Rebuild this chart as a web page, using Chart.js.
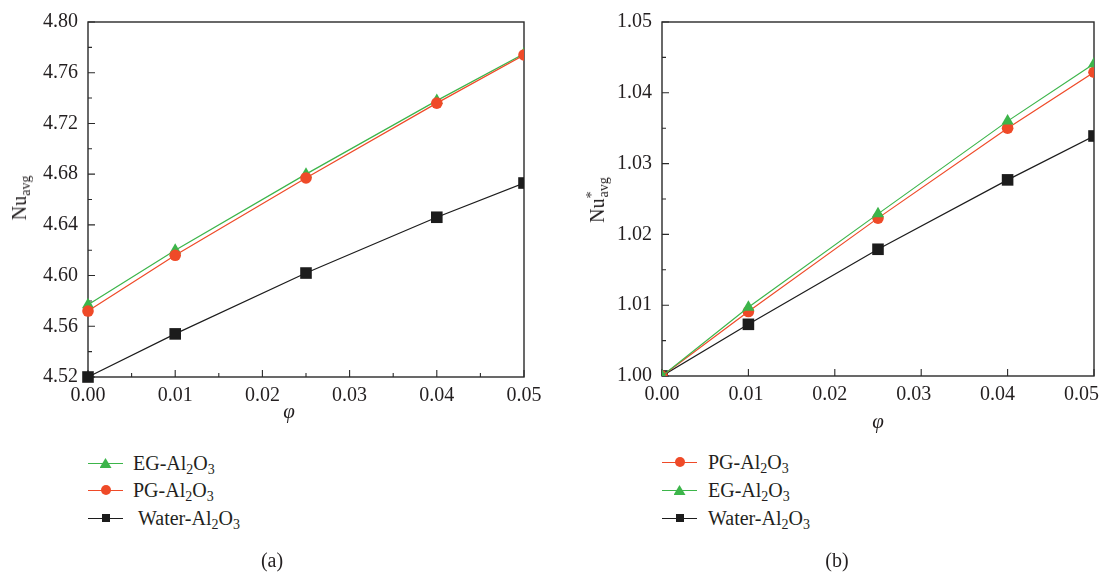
<!DOCTYPE html>
<html>
<head>
<meta charset="utf-8">
<script src="https://cdn.jsdelivr.net/npm/chart.js@4.4.1/dist/chart.umd.min.js"></script>
<style>
  html, body { margin: 0; padding: 0; background: #fff; overflow: hidden; }
  #wrap { position: relative; width: 1101px; height: 576px; overflow: hidden;
          font-family: "Liberation Serif", "Times New Roman", serif; color: #231f20; }
  canvas { position: absolute; top: 0; }
  #cA { left: 0; }
  #cB { left: 570px; }
  .ytitle { position: absolute; font-size: 20px; white-space: nowrap; line-height: 1;
            transform: translate(-50%, -50%) rotate(-90deg); }
  .xtitle { position: absolute; font-size: 21px; font-style: italic; line-height: 1;
            transform: translate(-50%, -50%); }
  .panel { position: absolute; font-size: 20px; line-height: 1; transform: translate(-50%, -50%); }
  sub { font-size: 70%; line-height: 0; vertical-align: -0.32em; }
  sup { font-size: 70%; line-height: 0; vertical-align: 0.55em; }
  .leg { position: absolute; height: 0; }
  .sym { position: absolute; left: 0; top: 0; width: 35px; height: 0; }
  .ln { position: absolute; left: 0; width: 35px; top: -0.5px; height: 1px; }
  .mk { position: absolute; left: 50%; top: 0; transform: translate(-50%, -50%); }
  .triangle { width: 12px; height: 10px; clip-path: polygon(50% 0, 100% 100%, 0 100%); }
  .circle { width: 10px; height: 10px; border-radius: 50%; }
  .rect { width: 8px; height: 8px; }
  .lt { position: absolute; top: 0; transform: translateY(-50%); font-size: 20px;
        white-space: nowrap; line-height: 1; }
</style>
</head>
<body>
<div id="wrap">
  <canvas id="cA" width="560" height="420"></canvas>
  <canvas id="cB" width="560" height="420"></canvas>

  <div class="ytitle" style="left:19px; top:198px;">Nu<sub>avg</sub></div>
  <div class="ytitle" style="left:597px; top:200px;">Nu<sup>*</sup><sub style="margin-left:-0.42em">avg</sub></div>
  <div class="xtitle" style="left:289px; top:411px;">φ</div>
  <div class="xtitle" style="left:878px; top:421px;">φ</div>
  <div class="panel" style="left:272px; top:560px;">(a)</div>
  <div class="panel" style="left:837px; top:560px;">(b)</div>
  <div id="legA"></div>
  <div id="legB"></div>
</div>

<script>
// Volume fraction of nanoparticles
const phi = [0, 0.01, 0.025, 0.04, 0.05];

// (a) average Nusselt number
const nuEG    = [4.577, 4.620, 4.680, 4.738, 4.775];
const nuPG    = [4.572, 4.616, 4.677, 4.736, 4.774];
const nuWater = [4.520, 4.554, 4.602, 4.646, 4.673];

// (b) normalised average Nusselt number
const nrEG    = [1.000, 1.0097, 1.0229, 1.0360, 1.0441];
const nrPG    = [1.000, 1.0091, 1.0223, 1.0350, 1.0429];
const nrWater = [1.000, 1.0073, 1.0179, 1.0277, 1.0339];

// Tick labels
const xTicks  = [0, 0.01, 0.02, 0.03, 0.04, 0.05];
const yTicksA = [4.52, 4.56, 4.60, 4.64, 4.68, 4.72, 4.76, 4.80];
const yTicksB = [1.00, 1.01, 1.02, 1.03, 1.04, 1.05];

const GREEN = '#3cb54a', RED = '#ef4a28', BLACK = '#1c1c1c';
const TEXT = '#231f20';

Chart.defaults.font.family = "'Liberation Serif', 'Times New Roman', serif";
Chart.defaults.color = TEXT;

// Frame around the plot area plus inward major / minor ticks
const frameTicks = {
  id: 'frameTicks',
  beforeDatasetsDraw(chart, args, opts) {
    const { ctx, chartArea: a, scales: { x, y } } = chart;
    ctx.save();
    ctx.strokeStyle = '#2a2a2a';
    ctx.lineWidth = 1.4;
    ctx.strokeRect(a.left, a.top, a.right - a.left, a.bottom - a.top);
    ctx.lineWidth = 1.1;
    ctx.beginPath();
    const mids = (vals) => vals.slice(1).map((v, i) => (v + vals[i]) / 2);
    const xv = x.ticks.map(t => t.value), yv = y.ticks.map(t => t.value);
    const xTick = (v, len) => { const p = x.getPixelForValue(v); ctx.moveTo(p, a.bottom); ctx.lineTo(p, a.bottom - len); };
    const yTick = (v, len) => { const p = y.getPixelForValue(v); ctx.moveTo(a.left, p); ctx.lineTo(a.left + len, p); };
    xv.forEach(v => xTick(v, 7));
    if (opts.xMinor) mids(xv).forEach(v => xTick(v, 4));
    yv.forEach(v => yTick(v, 7));
    if (opts.yMinor) mids(yv).forEach(v => yTick(v, 4));
    ctx.stroke();
    ctx.restore();
  }
};

function series(label, values, color, style, radius, clip) {
  return {
    label, data: phi.map((p, i) => ({ x: p, y: values[i] })),
    borderColor: color, backgroundColor: color, borderWidth: 1.2,
    pointStyle: style, pointRadius: radius, pointHoverRadius: radius,
    pointBackgroundColor: color, pointBorderColor: color, pointBorderWidth: 0,
    tension: 0, clip
  };
}

// x: data axis (ticks drawn inward by the plugin); xl: label axis below it,
// whose range sets how the φ labels are spread under the plot
function makeChart(id, datasets, yTicks, yMin, yMax, yWidth, xHeight, minorX, labelMax) {
  const tickFont = { size: 20 };
  return new Chart(document.getElementById(id), {
    type: 'line',
    data: { datasets },
    options: {
      responsive: false, animation: false, devicePixelRatio: 1,
      layout: { padding: { left: 0, top: 15, right: 36, bottom: 0 } },
      plugins: { legend: { display: false }, tooltip: { enabled: false },
                 frameTicks: { xMinor: minorX, yMinor: true } },
      scales: {
        x: {
          type: 'linear', position: 'bottom', min: 0, max: 0.05,
          grid: { display: false, drawTicks: false }, border: { display: false },
          ticks: { display: false },
          afterBuildTicks: s => { s.ticks = xTicks.map(v => ({ value: v })); },
          afterFit: s => { s.height = 0; }
        },
        xl: {
          type: 'linear', position: 'bottom', min: 0, max: labelMax,
          grid: { display: false, drawTicks: false }, border: { display: false },
          ticks: { padding: 7, autoSkip: false, maxRotation: 0, font: tickFont, color: TEXT,
                   callback: v => v.toFixed(2) },
          afterBuildTicks: s => { s.ticks = xTicks.map(v => ({ value: v })); },
          afterFit: s => { s.height = xHeight; }
        },
        y: {
          type: 'linear', min: yMin, max: yMax,
          grid: { display: false, drawTicks: false }, border: { display: false },
          ticks: { padding: 10, autoSkip: false, font: tickFont, color: TEXT,
                   callback: v => v.toFixed(2) },
          afterBuildTicks: s => { s.ticks = yTicks.map(v => ({ value: v })); },
          afterFit: s => { s.width = yWidth; }
        }
      }
    },
    plugins: [frameTicks]
  });
}

// (a): circles drawn over triangles; markers only cut at the right edge
const clipA = { left: false, top: false, right: 0, bottom: false };
makeChart('cA', [
  series('PG-Al2O3', nuPG, RED, 'circle', 5.8, clipA),
  series('EG-Al2O3', nuEG, GREEN, 'triangle', 7, clipA),
  series('Water-Al2O3', nuWater, BLACK, 'rect', 8.2, clipA)
], yTicksA, 4.52, 4.80, 88, 43, true, 0.05);

// (b): triangles drawn over circles; clipped to the plot area
makeChart('cB', [
  series('EG-Al2O3', nrEG, GREEN, 'triangle', 7, 0),
  series('PG-Al2O3', nrPG, RED, 'circle', 5.8, 0),
  series('Water-Al2O3', nrWater, BLACK, 'rect', 8.2, 0)
], yTicksB, 1.00, 1.05, 92, 44, false, 0.0515);

// Legends with chemical subscripts
function legend(hostId, left, tops, items) {
  const host = document.getElementById(hostId);
  items.forEach((it, i) => {
    const d = document.createElement('div');
    d.className = 'leg';
    d.style.left = left + 'px';
    d.style.top = tops[i] + 'px';
    d.innerHTML =
      `<span class="sym"><i class="ln" style="background:${it.color}"></i>` +
      `<i class="mk ${it.shape}" style="background:${it.color}"></i></span>` +
      `<span class="lt" style="left:${it.textOffset}px">${it.name}-Al<sub>2</sub>O<sub>3</sub></span>`;
    host.appendChild(d);
  });
}
legend('legA', 88, [463, 490, 518], [
  { name: 'EG', color: GREEN, shape: 'triangle', textOffset: 45 },
  { name: 'PG', color: RED, shape: 'circle', textOffset: 45 },
  { name: 'Water', color: BLACK, shape: 'rect', textOffset: 50 }
]);
legend('legB', 662, [462, 490, 518], [
  { name: 'PG', color: RED, shape: 'circle', textOffset: 46 },
  { name: 'EG', color: GREEN, shape: 'triangle', textOffset: 46 },
  { name: 'Water', color: BLACK, shape: 'rect', textOffset: 46 }
]);
</script>
</body>
</html>
